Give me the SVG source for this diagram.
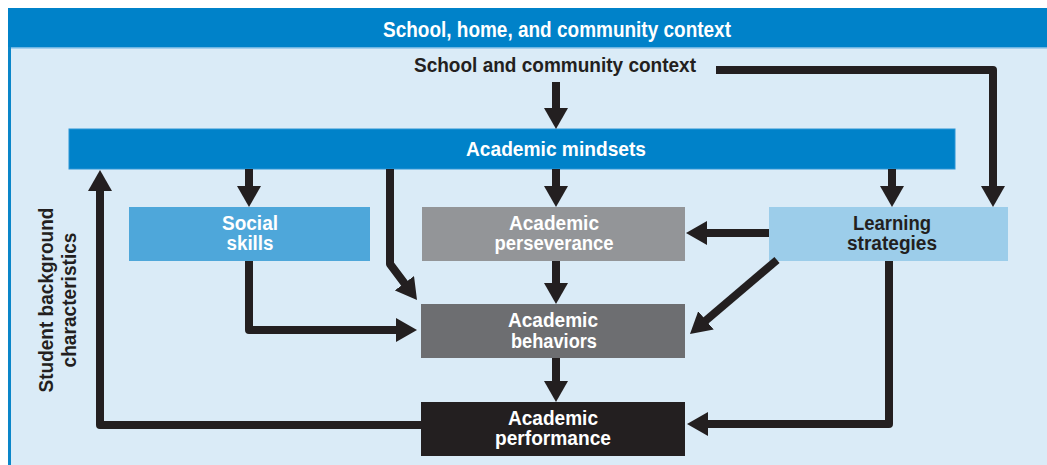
<svg xmlns="http://www.w3.org/2000/svg" width="1047" height="465" viewBox="0 0 1047 465">
<defs>
<style>
.t{font-family:"Liberation Sans",Arial,sans-serif;font-weight:bold;text-anchor:middle}
.w{fill:#ffffff}
.d{fill:#231f20}
.c{fill:none;stroke:#231f20;stroke-width:8;stroke-linejoin:round}
</style>
<marker id="ah" markerUnits="userSpaceOnUse" markerWidth="24" markerHeight="24" refX="11" refY="12" orient="auto">
<path d="M0,0 L21,12 L0,24 Z" fill="#231f20"/>
</marker>
</defs>
<rect width="1047" height="465" fill="#ffffff"/>
<g id="frame">
<rect x="8" y="8" width="1039" height="457" fill="#daebf7"/>
<rect x="8" y="8" width="3" height="457" fill="#0a86c9"/>
<rect x="8" y="8" width="1039" height="39" fill="#0082c9"/>
<rect x="11" y="47" width="1036" height="1.5" fill="#6fb6e3"/>
<text class="t w" x="557" y="37" font-size="22" textLength="348" lengthAdjust="spacingAndGlyphs">School, home, and community context</text>
</g>
<g id="school-community">
<text class="t d" x="555" y="72" font-size="21" textLength="282" lengthAdjust="spacingAndGlyphs">School and community context</text>
</g>
<g id="student-background">
<text class="t d" transform="translate(53,300) rotate(-90)" font-size="21" textLength="185" lengthAdjust="spacingAndGlyphs">Student background</text>
<text class="t d" transform="translate(76,300) rotate(-90)" font-size="21" textLength="135" lengthAdjust="spacingAndGlyphs">characteristics</text>
</g>
<g id="mindsets">
<rect x="69" y="129" width="886" height="40" fill="#0082c9" stroke="#2b95d6" stroke-width="1"/>
<text class="t w" x="556" y="156" font-size="21" textLength="180" lengthAdjust="spacingAndGlyphs">Academic mindsets</text>
</g>
<g id="social-skills">
<rect x="129" y="207" width="241" height="54" fill="#4ea7da"/>
<text class="t w" x="250" y="230" font-size="20" textLength="56" lengthAdjust="spacingAndGlyphs">Social</text>
<text class="t w" x="250" y="250" font-size="20" textLength="47" lengthAdjust="spacingAndGlyphs">skills</text>
</g>
<g id="perseverance">
<rect x="422" y="207" width="263" height="54" fill="#939598"/>
<text class="t w" x="554" y="230" font-size="20" textLength="90" lengthAdjust="spacingAndGlyphs">Academic</text>
<text class="t w" x="554" y="250" font-size="20" textLength="119" lengthAdjust="spacingAndGlyphs">perseverance</text>
</g>
<g id="learning-strategies">
<rect x="769" y="207" width="239" height="54" fill="#9ccdea"/>
<text class="t d" x="892" y="230" font-size="20" textLength="78" lengthAdjust="spacingAndGlyphs">Learning</text>
<text class="t d" x="892" y="250" font-size="20" textLength="90" lengthAdjust="spacingAndGlyphs">strategies</text>
</g>
<g id="behaviors">
<rect x="421" y="304" width="264" height="54" fill="#6d6e71"/>
<text class="t w" x="553" y="327" font-size="20" textLength="90" lengthAdjust="spacingAndGlyphs">Academic</text>
<text class="t w" x="554" y="348" font-size="20" textLength="86" lengthAdjust="spacingAndGlyphs">behaviors</text>
</g>
<g id="performance">
<rect x="421" y="402" width="264" height="54" fill="#231f20"/>
<text class="t w" x="553" y="425" font-size="20" textLength="90" lengthAdjust="spacingAndGlyphs">Academic</text>
<text class="t w" x="553" y="445" font-size="20" textLength="116" lengthAdjust="spacingAndGlyphs">performance</text>
</g>
<g id="connectors">
<path class="c" d="M556,82 L556,119" marker-end="url(#ah)"/>
<path class="c" d="M716,70 L993,70 L993,197" marker-end="url(#ah)"/>
<path class="c" d="M249,169 L249,197" marker-end="url(#ah)"/>
<path class="c" d="M556,169 L556,197" marker-end="url(#ah)"/>
<path class="c" d="M892,169 L892,197" marker-end="url(#ah)"/>
<path class="c" d="M390,169 L390,264 L411,292" marker-end="url(#ah)"/>
<path class="c" d="M769,233 L696,233" marker-end="url(#ah)"/>
<path class="c" d="M777,260 L697.6,327.5" marker-end="url(#ah)"/>
<path class="c" d="M889,261 L889,424 L697,424" marker-end="url(#ah)"/>
<path class="c" d="M556,261 L556,294" marker-end="url(#ah)"/>
<path class="c" d="M249,261 L249,330 L407,330" marker-end="url(#ah)"/>
<path class="c" d="M556,358 L556,392" marker-end="url(#ah)"/>
<path class="c" d="M421,425 L100,425 L100,180" marker-end="url(#ah)"/>
</g>
</svg>
